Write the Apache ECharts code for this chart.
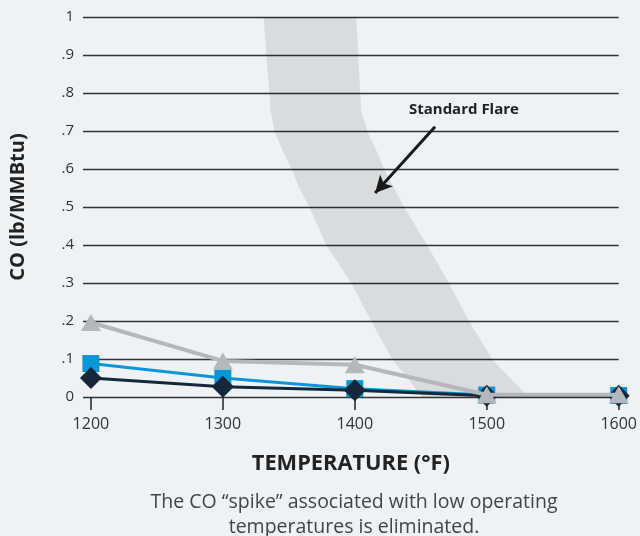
<!DOCTYPE html>
<html>
<head>
<meta charset="utf-8">
<script src="https://cdn.jsdelivr.net/npm/echarts@6/dist/echarts.min.js"></script>
<style>
html,body{margin:0;padding:0;background:#eef2f5;}
#c{width:640px;height:536px;}
</style>
</head>
<body>
<div id="c"></div>
<script>
var temps = [1200, 1300, 1400, 1500, 1600];
var triangleSeries = [0.196, 0.095, 0.085, 0.006, 0.006];
var squareSeries = [0.088, 0.05, 0.022, 0.005, 0.004];
var diamondSeries = [0.05, 0.027, 0.018, 0.003, 0.003];
// Standard flare band edges [temperature, CO]
var bandLeft = [[1330.8,1.0],[1333,0.9],[1335.3,0.8],[1336.1,0.755],[1339.1,0.7],[1345.1,0.65],[1351.9,0.6],[1358,0.55],[1365.5,0.5],[1378.4,0.4],[1397.3,0.3],[1412.4,0.2],[1428.3,0.1],[1451,0]];
var bandRight = [[1401.1,1.0],[1402.6,0.9],[1404.1,0.8],[1404.8,0.755],[1409.4,0.7],[1416.2,0.65],[1422.2,0.6],[1429.8,0.55],[1437.3,0.5],[1454.7,0.4],[1471.3,0.3],[1486.5,0.2],[1503.9,0.1],[1531.8,0]];
var arrowFrom = [1460.8, 0.711];
var arrowTo = [1415.4, 0.537];
var flareLabelPos = [1482.7, 0.755];

var font = '"Open Sans", sans-serif';
var chart = echarts.init(document.getElementById('c'));
function pairs(arr){ return temps.map(function(t,i){ return [t, arr[i]]; }); }
chart.setOption({
  backgroundColor: '#eef2f5',
  animation: false,
  title: {
    text: 'The CO \u201cspike\u201d associated with low operating\ntemperatures is eliminated.',
    left: 349, top: 485, textAlign: 'center',
    textStyle: {fontFamily: font, fontSize: 19.5, fontWeight: 'normal', color: '#444', lineHeight: 25}
  },
  grid: {left: 83, right: 20, top: 17, bottom: 139, containLabel: false},
  xAxis: {
    type: 'value', min: 1194, max: 1600,
    name: 'TEMPERATURE (\u00b0F)', nameLocation: 'middle', nameGap: 56,
    nameTextStyle: {fontFamily: font, fontSize: 21.8, fontWeight: 'bold', color: '#222'},
    axisLine: {show: false},
    splitLine: {show: false},
    axisTick: {show: true, customValues: temps, length: 13, lineStyle: {color: '#222', width: 1.5}},
    axisLabel: {customValues: temps, margin: 19, fontFamily: font, fontSize: 16, color: '#333',
      formatter: function(v){ return String(v); }}
  },
  yAxis: {
    type: 'value', min: 0, max: 1, interval: 0.1,
    name: 'CO (lb/MMBtu)', nameLocation: 'middle', nameGap: 55,
    nameTextStyle: {fontFamily: font, fontSize: 20, fontWeight: 'bold', color: '#222'},
    axisLine: {show: false}, axisTick: {show: false},
    splitLine: {lineStyle: {color: '#333', width: 1.4}},
    axisLabel: {
      margin: 9, fontFamily: font, fontSize: 15, color: '#333',
      formatter: function(v){
        var r = Math.round(v*10)/10;
        if (r === 0) return '0';
        if (r === 1) return '1';
        return String(r).replace(/^0/, '');
      }
    }
  },
  series: [
    {
      type: 'custom', z: 1, silent: true,
      data: [0],
      renderItem: function(params, api){
        var pts = bandLeft.concat(bandRight.slice().reverse()).map(function(p){ return api.coord(p); });
        return {type: 'polygon', shape: {points: pts}, style: {fill: 'rgba(0,0,0,0.09)'}};
      },
      markLine: {
        silent: true, symbol: ['none', 'arrow'], symbolSize: [13, 17],
        lineStyle: {color: '#1a1a1a', width: 3, type: 'solid'},
        label: {show: false},
        data: [[{coord: arrowFrom}, {coord: arrowTo}]]
      },
      markPoint: {
        silent: true, symbol: 'circle', symbolSize: 0,
        label: {show: true, formatter: 'Standard Flare', fontFamily: font, fontSize: 15, fontWeight: 'bold', color: '#222'},
        data: [{coord: flareLabelPos}]
      }
    },
    {
      type: 'line', data: pairs(squareSeries), symbol: 'rect', symbolSize: 17,
      lineStyle: {color: '#0a96d6', width: 3}, itemStyle: {color: '#0a96d6'}, z: 3
    },
    {
      type: 'line', data: pairs(diamondSeries), symbol: 'diamond', symbolSize: 22,
      lineStyle: {color: '#15273a', width: 3}, itemStyle: {color: '#15273a'}, z: 4
    },
    {
      type: 'line', data: pairs(triangleSeries), symbol: 'triangle', symbolSize: [20, 17],
      lineStyle: {color: '#b4b8bc', width: 4}, itemStyle: {color: '#b4b8bc'}, z: 5
    }
  ]
});
</script>
</body>
</html>
